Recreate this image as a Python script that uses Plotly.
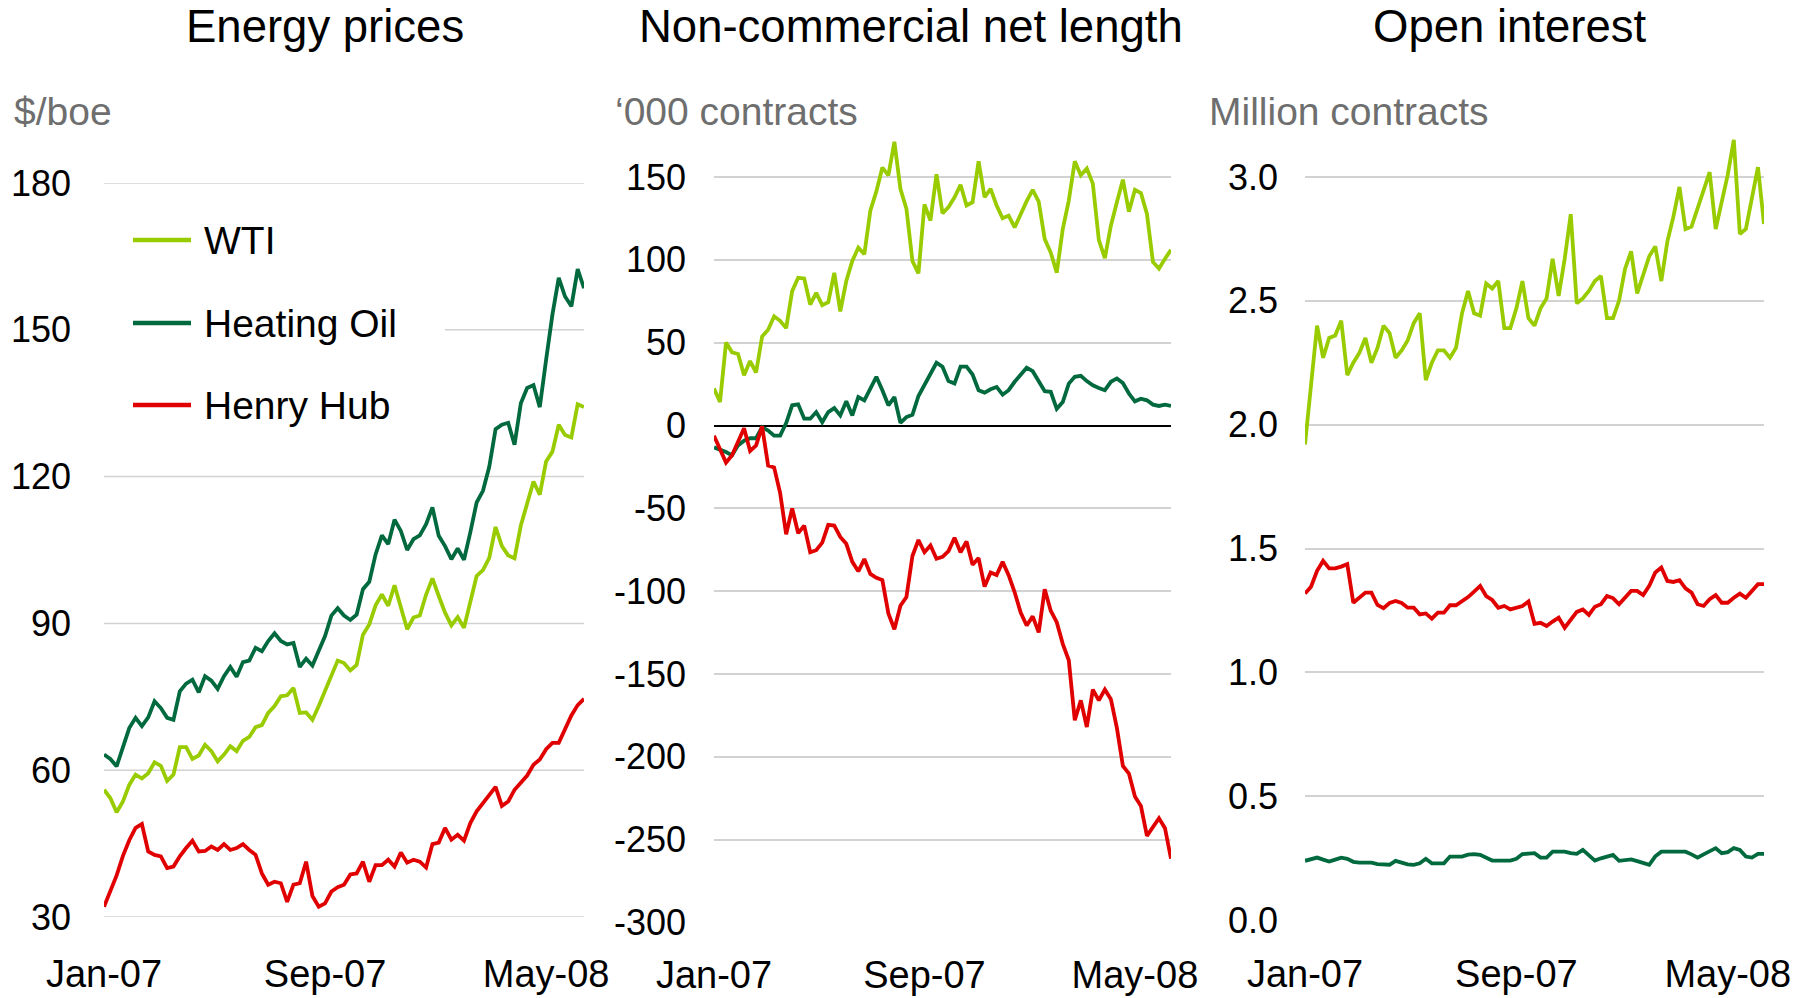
"""Three-panel energy futures chart: prices, non-commercial net length, open interest."""

import pandas as pd
import plotly.graph_objects as go

W, H = 1814, 998
FONT = "Liberation Sans, Arial, sans-serif"

WTI_COLOR = "#99cc00"
HEATING_COLOR = "#00693e"
HH_COLOR = "#e00000"
GRID_COLOR = "#d2d2d2"
UNIT_COLOR = "#6e6e6e"

# Weekly observations, Tuesdays Jan-07 to Jun-08
weeks = pd.date_range("2007-01-02", periods=77, freq="7D")
tick_dates = ["2007-01-02", "2007-09-04", "2008-05-06"]
tick_labels = ["Jan-07", "Sep-07", "May-08"]

# Energy prices, $/boe
price_wti = [56, 54.3, 51.4, 53.6, 57, 59.1, 58.3, 59.4, 61.6, 60.9,
             57.8, 59.1, 64.7, 64.7, 62.3, 63, 65.2, 63.9, 61.8, 63.2,
             64.9, 63.9, 66, 66.8, 68.8, 69.2, 71.7, 73.1, 75.1, 75.3,
             76.8, 71.7, 71.8, 70.3, 73.1, 76.1, 79.2, 82.4, 81.9, 80.4,
             81.5, 87.7, 89.8, 93.7, 95.9, 93.6, 97.8, 93.2, 88.8, 91.2,
             91.6, 95.9, 99.2, 95.6, 92.2, 89.6, 91.3, 89.1, 94.2, 99.7,
             100.9, 103.4, 109.7, 105.8, 103.9, 103.3, 110, 114.4, 119, 116.3,
             123.1, 125.1, 130.6, 128.5, 128, 134.8, 134.2]
price_heating = [63.2, 62.3, 60.8, 64.5, 68.6, 70.7, 69, 70.8, 74.1, 72.7,
                 70.7, 70.3, 76.1, 77.7, 78.5, 75.9, 79.2, 78.3, 76.6, 79.2,
                 81.1, 79.1, 82.1, 82.4, 85, 84.3, 86.4, 88, 86.4, 85.7,
                 86, 81.1, 82.8, 81.4, 84.3, 87.4, 91.6, 93.1, 91.6, 90.7,
                 91.8, 97, 98.5, 104.1, 108, 106.2, 111.2, 108.9, 105, 107.2,
                 108, 110.3, 113.7, 107.9, 105.8, 103.1, 105.3, 103, 108.6, 114.7,
                 117.1, 122, 129.7, 130.6, 131, 126.5, 135, 138.1, 138.7, 134.2,
                 143.9, 153.1, 160.6, 156.8, 154.8, 162.4, 158.5]
price_hh = [32.1, 35.5, 38.5, 42.5, 45.7, 48.2, 49, 43.4, 42.7, 42.4,
            40, 40.3, 42.4, 44.1, 45.6, 43.4, 43.5, 44.4, 43.7, 44.9,
            43.7, 44.1, 44.9, 43.7, 42.7, 38.9, 36.6, 37.2, 36.9, 33.1,
            36.6, 36.9, 41.3, 34.3, 32.1, 32.8, 35.2, 36.1, 36.6, 38.7,
            38.9, 41.3, 37.2, 40.6, 40.6, 41.7, 40.3, 43.2, 41.1, 41.7,
            41.3, 40.1, 44.9, 45.2, 48.2, 45.8, 46.8, 45.6, 49.2, 51.6,
            53.3, 55, 56.6, 52.7, 53.6, 56, 57.4, 58.9, 61.1, 62.2,
            64.3, 65.6, 65.6, 68.3, 71.2, 73.3, 74.6]

# Non-commercial net length, '000 contracts
net_wti = [22.3, 14.2, 50.1, 44.2, 43.2, 30.4, 38.9, 32, 53.7, 57.8,
           65.9, 63.2, 58.8, 81.1, 89.2, 88.8, 73, 80.1, 72.6, 74.4,
           92.2, 68.9, 87.2, 99.3, 107.4, 103.4, 129.7, 141.3, 155.7, 151,
           171.3, 142.9, 130.8, 99.3, 91.8, 133.4, 123.7, 151.6, 128.1, 131.8,
           137.8, 145.3, 132.8, 134.8, 159.5, 137.8, 142.9, 132.8, 125.1, 126.7,
           119.6, 127.7, 135.4, 142.3, 135.2, 112.5, 104.4, 92.2, 118.6, 135.8,
           159.5, 151, 155.1, 146, 111.9, 101, 120.6, 134.8, 148.4, 129.1,
           142.3, 140.3, 127.7, 98.7, 94.7, 100.7, 106]
net_heating = [-13.2, -14.5, -16, -18, -12, -9.2, -7.7, -7.7, -1, -3,
               -6.1, -6.1, 1.5, 12.2, 12.8, 4.1, 4.1, 8.1, 2, 8.1,
               10.5, 6.1, 14.6, 6.1, 17.2, 15.2, 22.3, 29.4, 21.3, 12.2,
               17.2, 1.6, 5.1, 6.5, 17.8, 24.3, 30.4, 37.9, 35.5, 26.8,
               25.3, 35.5, 35.5, 30.8, 21.3, 19.9, 21.9, 23.3, 18.6, 21.3,
               26.4, 30.4, 34.9, 32.8, 26.8, 20.7, 20.3, 10.1, 14.2, 25.3,
               29.4, 30, 26.8, 24.3, 22.7, 21.3, 26.4, 28.4, 25.7, 19.3,
               14.6, 16.2, 15.2, 12.6, 11.8, 12.6, 11.8]
net_hh = [-6.2, -14.3, -22.4, -18, -10, -1.6, -15.4, -12, -0.5, -24.2,
          -25.3, -40.8, -65.7, -50, -65, -60.4, -76.5, -75.3, -70.7, -60,
          -60.4, -67.3, -71.4, -82.3, -88, -80.6, -89.6, -91.9, -93.3, -113.4,
          -123, -108.8, -103.5, -78.8, -69.1, -76.5, -72.4, -80.4, -79.3, -75.8,
          -67.7, -76.5, -70, -84.1, -80, -97.2, -88.7, -90.3, -82.3, -90.3,
          -100.7, -112.9, -120.7, -115.2, -124.9, -98.8, -111.8, -118.7, -131.8, -141.7,
          -177.9, -165.9, -182, -159.4, -165.9, -159.4, -165.2, -182.5, -205.5, -210.1,
          -224, -229.7, -247.7, -242, -237.1, -243.1, -261.5]

# Open interest, million contracts
oi_wti = [1.92, 2.16, 2.40, 2.27, 2.35, 2.36, 2.42, 2.20, 2.25, 2.29,
          2.35, 2.25, 2.31, 2.40, 2.37, 2.27, 2.30, 2.34, 2.41, 2.45,
          2.18, 2.25, 2.30, 2.30, 2.27, 2.31, 2.45, 2.54, 2.45, 2.44,
          2.57, 2.55, 2.58, 2.39, 2.39, 2.47, 2.58, 2.43, 2.40, 2.47,
          2.51, 2.67, 2.52, 2.67, 2.85, 2.49, 2.51, 2.54, 2.58, 2.60,
          2.43, 2.43, 2.50, 2.63, 2.70, 2.53, 2.60, 2.68, 2.72, 2.58,
          2.74, 2.84, 2.96, 2.79, 2.80, 2.87, 2.95, 3.02, 2.79, 2.90,
          3.01, 3.15, 2.77, 2.79, 2.92, 3.04, 2.81]
oi_heating = [0.239, 0.245, 0.252, 0.244, 0.236, 0.244, 0.252, 0.247, 0.235, 0.232,
              0.232, 0.232, 0.226, 0.223, 0.223, 0.239, 0.232, 0.225, 0.223, 0.229,
              0.247, 0.229, 0.229, 0.229, 0.256, 0.256, 0.256, 0.264, 0.266, 0.263,
              0.25, 0.24, 0.24, 0.24, 0.24, 0.247, 0.266, 0.268, 0.27, 0.252,
              0.252, 0.276, 0.276, 0.276, 0.27, 0.267, 0.283, 0.262, 0.24, 0.249,
              0.258, 0.263, 0.239, 0.243, 0.245, 0.238, 0.232, 0.223, 0.257, 0.276,
              0.276, 0.276, 0.276, 0.276, 0.265, 0.252, 0.265, 0.278, 0.29, 0.27,
              0.274, 0.29, 0.283, 0.256, 0.252, 0.267, 0.267]
oi_hh = [1.318, 1.346, 1.41, 1.45, 1.42, 1.42, 1.427, 1.437, 1.281, 1.30,
         1.322, 1.322, 1.272, 1.259, 1.28, 1.288, 1.28, 1.261, 1.261, 1.234,
         1.238, 1.217, 1.241, 1.241, 1.271, 1.271, 1.286, 1.304, 1.326, 1.349,
         1.308, 1.292, 1.261, 1.268, 1.254, 1.261, 1.268, 1.286, 1.196, 1.20,
         1.187, 1.205, 1.221, 1.18, 1.214, 1.244, 1.254, 1.232, 1.265, 1.275,
         1.308, 1.30, 1.275, 1.304, 1.329, 1.329, 1.312, 1.349, 1.403, 1.423,
         1.369, 1.365, 1.372, 1.339, 1.322, 1.275, 1.268, 1.295, 1.312, 1.281,
         1.281, 1.301, 1.318, 1.301, 1.326, 1.356, 1.356]

price_ticks = [30, 60, 90, 120, 150, 180]
net_ticks = [-300, -250, -200, -150, -100, -50, 0, 50, 100, 150]
oi_ticks = [0.0, 0.5, 1.0, 1.5, 2.0, 2.5, 3.0]

series_names = ["WTI", "Heating Oil", "Henry Hub"]
series_colors = [WTI_COLOR, HEATING_COLOR, HH_COLOR]

panel_titles = ["Energy prices", "Non-commercial net length", "Open interest"]
panel_units = ["$/boe", "\u2018000 contracts", "Million contracts"]


def px_x(x):
    return x / W


def px_y(y):
    return 1 - y / H


fig = go.Figure()

panels = [
    ("x", "y", [price_wti, price_heating, price_hh]),
    ("x2", "y2", [net_wti, net_heating, net_hh]),
    ("x3", "y3", [oi_wti, oi_heating, oi_hh]),
]
for xref, yref, values in panels:
    for name, color, ys in zip(series_names, series_colors, values):
        fig.add_trace(
            go.Scatter(
                x=weeks, y=ys, mode="lines", name=name,
                line=dict(color=color, width=3.8),
                xaxis=xref, yaxis=yref, showlegend=False,
            )
        )

x_domains = [(104, 584), (714, 1171), (1305, 1764)]
x_common = dict(
    type="date",
    range=[weeks[0], weeks[-1]],
    tickvals=tick_dates,
    ticktext=tick_labels,
    tickfont=dict(family=FONT, size=38, color="black"),
    showgrid=False, zeroline=False, showline=False, ticks="",
    automargin=False,
)
y_common = dict(
    tickfont=dict(family=FONT, size=36, color="black"),
    showgrid=True, gridcolor=GRID_COLOR, gridwidth=1.5,
    showline=False, ticks="",
    automargin=False,
)

# x tick labels share one baseline across panels whose bottoms differ slightly
x_bottoms = [917, 922.5, 920]
layout_axes = {}
for i, ((x0, x1), bottom) in enumerate(zip(x_domains, x_bottoms)):
    key = "xaxis" if i == 0 else f"xaxis{i + 1}"
    anchor = "y" if i == 0 else f"y{i + 1}"
    layout_axes[key] = dict(
        x_common, domain=[px_x(x0), px_x(x1)], anchor=anchor,
        ticklabelstandoff=int(round(948 - bottom)),
    )

# Panel 1 gridlines are drawn as shapes so the legend patch can mask one of them
layout_axes["yaxis"] = dict(
    y_common, anchor="x", range=[30, 180],
    domain=[px_y(917), px_y(183)],
    tickvals=price_ticks, ticktext=[str(v) for v in price_ticks],
    zeroline=False, showgrid=False, ticklabelstandoff=32,
)
layout_axes["yaxis2"] = dict(
    y_common, anchor="x2", range=[-300, 175],
    domain=[px_y(922.5), px_y(135.6)],
    tickvals=net_ticks, ticktext=[str(v) for v in net_ticks],
    zeroline=True, zerolinecolor="black", zerolinewidth=1.5,
    ticklabelstandoff=27,
)
layout_axes["yaxis3"] = dict(
    y_common, anchor="x3", range=[0, 3.2],
    domain=[px_y(920), px_y(127.5)],
    tickvals=oi_ticks, ticktext=[f"{v:.1f}" for v in oi_ticks],
    zeroline=False, ticklabelstandoff=26,
)

annotations = []
title_centers = [325, 911, 1510]
unit_lefts = [12, 613, 1207]
for title, cx in zip(panel_titles, title_centers):
    annotations.append(dict(
        text=title, x=px_x(cx), y=px_y(27), xref="paper", yref="paper",
        xanchor="center", yanchor="middle", showarrow=False,
        font=dict(family=FONT, size=45.5, color="black"),
    ))
for unit, lx in zip(panel_units, unit_lefts):
    annotations.append(dict(
        text=unit, x=px_x(lx), y=px_y(111), xref="paper", yref="paper",
        xanchor="left", yanchor="middle", showarrow=False,
        font=dict(family=FONT, size=39, color=UNIT_COLOR),
    ))

shapes = []
for v in price_ticks:
    shapes.append(dict(
        type="line", xref="paper", yref="y", layer="below",
        x0=px_x(104), x1=px_x(584), y0=v, y1=v,
        line=dict(color=GRID_COLOR, width=1.5),
    ))
# white legend patch over the gridlines, still beneath the data lines
shapes.append(dict(
    type="rect", xref="paper", yref="paper", layer="below",
    x0=px_x(100), x1=px_x(445), y0=px_y(450), y1=px_y(205),
    fillcolor="white", line=dict(width=0),
))
legend_rows = [240, 323, 405]
for name, color, ry in zip(series_names, series_colors, legend_rows):
    shapes.append(dict(
        type="line", xref="paper", yref="paper", layer="above",
        x0=px_x(133), x1=px_x(191), y0=px_y(ry), y1=px_y(ry),
        line=dict(color=color, width=4.5),
    ))
    annotations.append(dict(
        text=name, x=px_x(202), y=px_y(ry), xref="paper", yref="paper",
        xanchor="left", yanchor="middle", showarrow=False,
        font=dict(family=FONT, size=39, color="black"),
    ))

fig.update_layout(
    width=W, height=H,
    margin=dict(l=0, r=0, t=0, b=0, autoexpand=False),
    paper_bgcolor="white", plot_bgcolor="rgba(0,0,0,0)",
    font=dict(family=FONT),
    showlegend=False,
    annotations=annotations,
    shapes=shapes,
    **layout_axes,
)

fig.write_html(
    "out.html",
    config={"displayModeBar": False},
    post_script="document.body.style.margin='0';document.body.style.overflow='hidden';",
)
